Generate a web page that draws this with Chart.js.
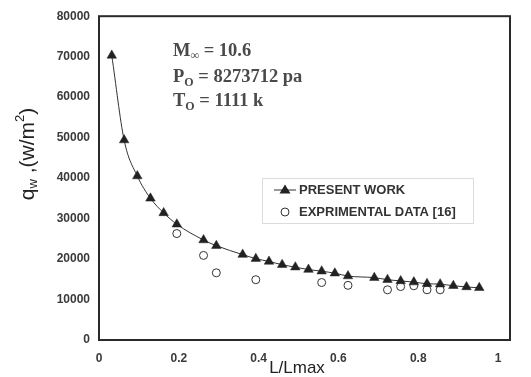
<!DOCTYPE html>
<html>
<head>
<meta charset="utf-8">
<script src="https://cdn.jsdelivr.net/npm/chart.js@4/dist/chart.umd.min.js"></script>
<style>
  html, body { margin: 0; padding: 0; background: #fff; }
  #wrap { width: 531px; height: 377px; position: relative; }
</style>
</head>
<body>
<div id="wrap"><canvas id="c" width="531" height="377"></canvas></div>
<script>
// ---- Data ----
const presentX = [0.032, 0.063, 0.096, 0.129, 0.162, 0.195, 0.262, 0.294, 0.360, 0.393, 0.426, 0.459, 0.492, 0.525, 0.558, 0.591, 0.624, 0.690, 0.723, 0.756, 0.789, 0.822, 0.855, 0.888, 0.921, 0.953];
const presentY = [70300, 49400, 40500, 35000, 31400, 28600, 24700, 23300, 21100, 20100, 19400, 18600, 18000, 17400, 17000, 16500, 15800, 15400, 14900, 14600, 14300, 13900, 13800, 13400, 13100, 12900];
const expX = [0.195, 0.262, 0.294, 0.393, 0.558, 0.624, 0.723, 0.756, 0.789, 0.822, 0.855];
const expY = [26300, 20900, 16600, 14900, 14200, 13500, 12400, 13200, 13400, 12400, 12400];
const xTicks = [0, 0.2, 0.4, 0.6, 0.8, 1];
const xTickLabels = ["0", "0.2", "0.4", "0.6", "0.8", "1"];
const yTicks = [0, 10000, 20000, 30000, 40000, 50000, 60000, 70000, 80000];
const seriesLabels = ["PRESENT WORK", "EXPRIMENTAL DATA [16]"];

const toPts = (xs, ys) => xs.map((x, i) => ({ x: x, y: ys[i] }));

const overlay = {
  id: 'overlay',
  afterDraw(chart) {
    const ctx = chart.ctx;
    const a = chart.chartArea;
    ctx.save();
    // frame
    ctx.strokeStyle = '#2a2a2a';
    ctx.lineWidth = 2;
    ctx.strokeRect(a.left, a.top, a.right - a.left, a.bottom - a.top);

    // annotation text
    ctx.fillStyle = '#4a4a4a';
    ctx.textBaseline = 'alphabetic';
    ctx.textAlign = 'left';
    const big = 'bold 18.5px "Liberation Serif", "Times New Roman", serif';
    const small = 'bold 12px "Liberation Serif", "Times New Roman", serif';
    function runs(x, y, parts) {
      parts.forEach(p => {
        ctx.font = p.small ? small : big;
        ctx.fillText(p.t, x, y + (p.dy || 0));
        x += ctx.measureText(p.t).width;
      });
    }
    runs(173, 56, [{t: 'M'}, {t: '\u221E', small: true, dy: 3}, {t: ' = 10.6'}]);
    runs(173, 82, [{t: 'P'}, {t: 'O', small: true, dy: 4}, {t: ' = 8273712 pa'}]);
    runs(173, 106, [{t: 'T'}, {t: 'O', small: true, dy: 4}, {t: ' = 1111 k'}]);

    // legend
    ctx.strokeStyle = '#dcdcdc';
    ctx.lineWidth = 1;
    ctx.strokeRect(262.5, 178.5, 211, 45);
    ctx.strokeStyle = '#333';
    ctx.beginPath(); ctx.moveTo(274, 190); ctx.lineTo(296, 190); ctx.stroke();
    ctx.fillStyle = '#222';
    ctx.beginPath(); ctx.moveTo(285, 184.5); ctx.lineTo(290.5, 193.5); ctx.lineTo(279.5, 193.5); ctx.closePath(); ctx.fill();
    ctx.fillStyle = '#fff';
    ctx.strokeStyle = '#333';
    ctx.beginPath(); ctx.arc(285, 212, 4, 0, Math.PI * 2); ctx.fill(); ctx.stroke();
    ctx.fillStyle = '#333';
    ctx.font = 'bold 13px "Liberation Sans", Arial, sans-serif';
    ctx.textBaseline = 'middle';
    ctx.fillText(seriesLabels[0], 299, 190);
    ctx.fillText(seriesLabels[1], 299, 212);

    // x title
    ctx.font = '17px "Liberation Sans", Arial, sans-serif';
    ctx.fillStyle = '#222';
    ctx.textAlign = 'center';
    ctx.fillText('L/Lmax', 297, 368);

    // y title (rotated)
    ctx.translate(28, 154);
    ctx.rotate(-Math.PI / 2);
    ctx.textAlign = 'left';
    ctx.textBaseline = 'middle';
    const yParts = [
      {t: 'q', f: '21px'}, {t: 'w', f: '13px', dy: 5}, {t: ' ,(w/m', f: '21px'}, {t: '2', f: '13px', dy: -8}, {t: ')', f: '21px'}
    ];
    let total = 0;
    yParts.forEach(p => { ctx.font = p.f + ' "Liberation Sans", Arial, sans-serif'; total += ctx.measureText(p.t).width; });
    let xx = -total / 2;
    yParts.forEach(p => {
      ctx.font = p.f + ' "Liberation Sans", Arial, sans-serif';
      ctx.fillText(p.t, xx, (p.dy || 0));
      xx += ctx.measureText(p.t).width;
    });
    ctx.restore();
  }
};

new Chart(document.getElementById('c'), {
  type: 'scatter',
  data: {
    datasets: [
      {
        label: seriesLabels[0],
        data: toPts(presentX, presentY),
        showLine: true,
        cubicInterpolationMode: 'monotone',
        borderColor: '#333',
        borderWidth: 1,
        pointStyle: 'triangle',
        pointRadius: 5.5,
        pointBackgroundColor: '#222',
        pointBorderColor: '#222',
        pointBorderWidth: 0.5
      },
      {
        label: seriesLabels[1],
        data: toPts(expX, expY),
        showLine: false,
        pointStyle: 'circle',
        pointRadius: 4,
        pointBackgroundColor: '#fff',
        pointBorderColor: '#333',
        pointBorderWidth: 1
      }
    ]
  },
  options: {
    responsive: false,
    animation: false,
    layout: { padding: { left: 0, top: 11, right: 21, bottom: 0 } },
    plugins: { legend: { display: false }, tooltip: { enabled: false } },
    scales: {
      x: {
        type: 'linear',
        min: 0,
        max: 1.03,
        afterBuildTicks: s => { s.ticks = xTicks.map(v => ({ value: v })); },
        afterFit: s => { s.height = 37; },
        grid: { display: false, drawTicks: false },
        border: { display: false },
        ticks: {
          padding: 11,
          maxRotation: 0,
          autoSkip: false,
          color: '#3a3a3a',
          font: { family: '"Liberation Sans", Arial, sans-serif', size: 12, weight: 'bold' },
          callback: (v) => { const i = xTicks.indexOf(v); return i >= 0 ? xTickLabels[i] : ''; }
        }
      },
      y: {
        type: 'linear',
        min: 0,
        max: 80000,
        afterBuildTicks: s => { s.ticks = yTicks.map(v => ({ value: v })); },
        afterFit: s => { s.width = 99; },
        grid: { display: false, drawTicks: false },
        border: { display: false },
        ticks: {
          padding: 9,
          autoSkip: false,
          color: '#3a3a3a',
          font: { family: '"Liberation Sans", Arial, sans-serif', size: 12, weight: 'bold' },
          callback: v => String(v)
        }
      }
    }
  },
  plugins: [overlay]
});
</script>
</body>
</html>
